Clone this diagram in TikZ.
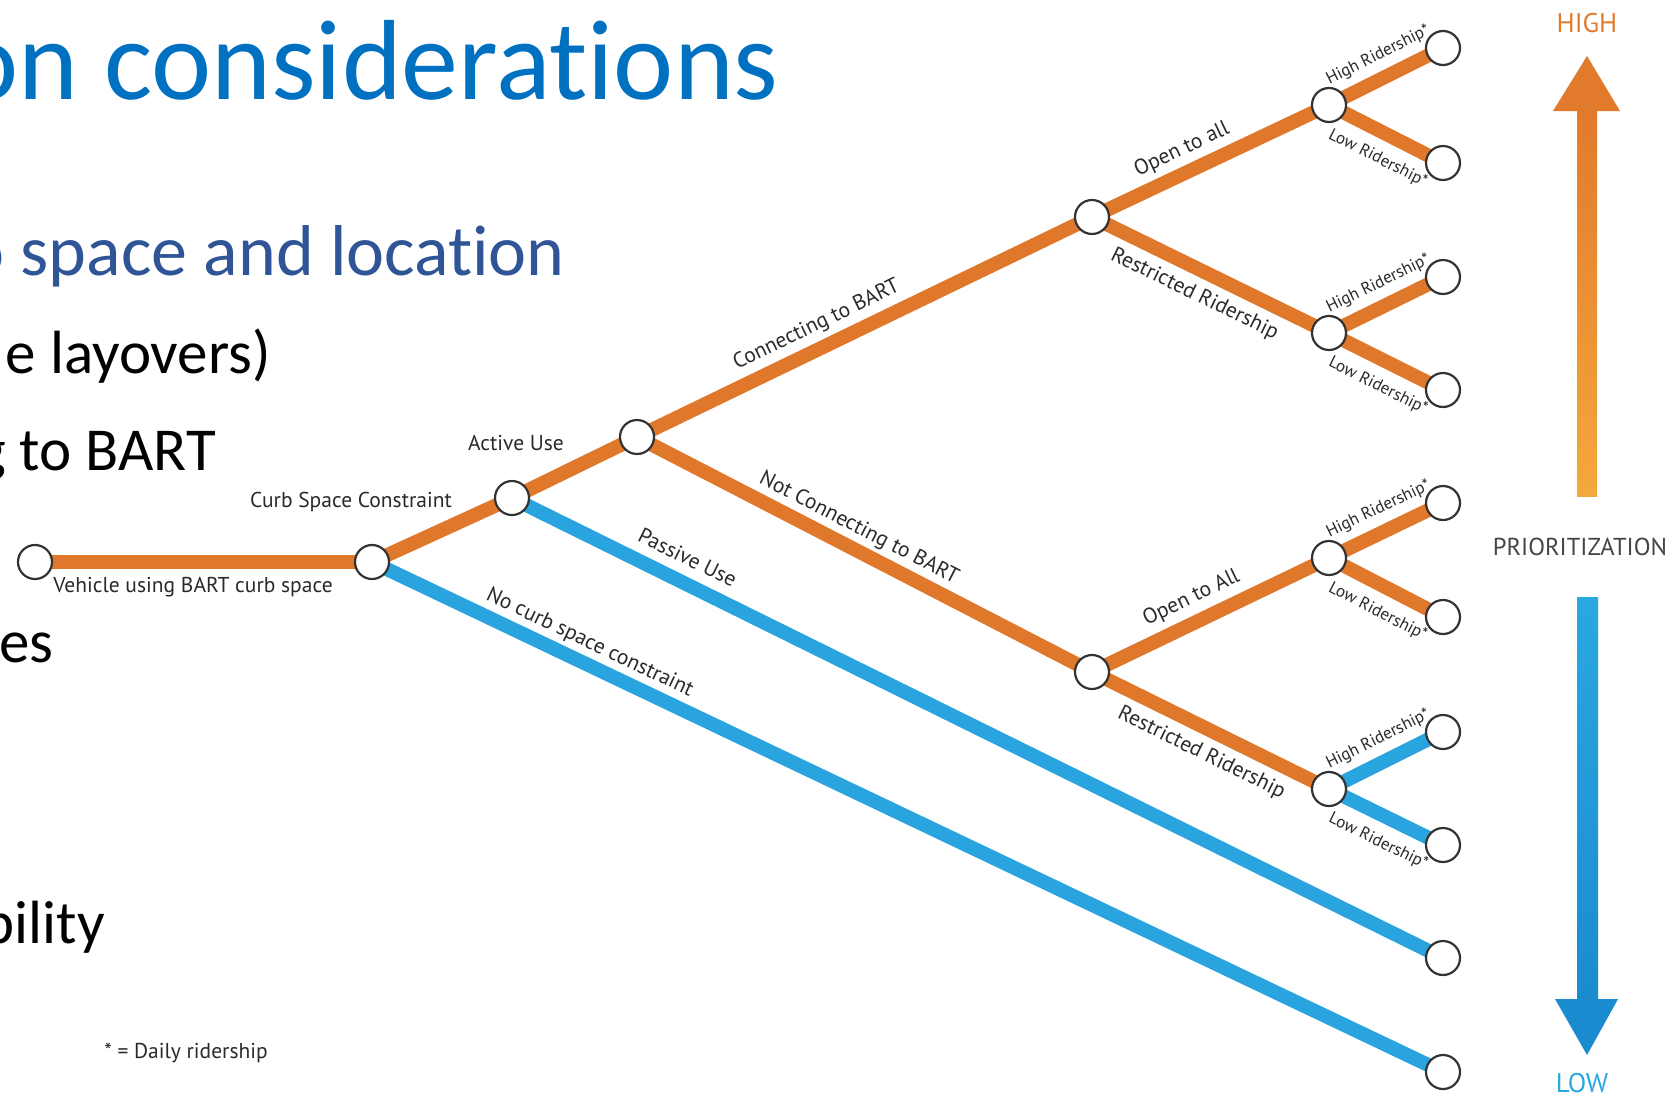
\documentclass[tikz,border=0pt]{standalone}
\usepackage{fontspec}
\setmainfont{Carlito}[Ligatures=NoCommon]
\newfontfamily\lblfont{PT Sans}
\usetikzlibrary{calc}
\definecolor{ttlblue}{HTML}{0070C0}
\definecolor{hdblue}{HTML}{2F5597}
\definecolor{lorange}{HTML}{E0782C}
\definecolor{lblue}{HTML}{2AA4DE}
\definecolor{ringgray}{HTML}{333333}
\definecolor{labgray}{HTML}{2A2A2A}
\definecolor{ahorange}{HTML}{E27A2C}
\definecolor{ahlight}{HTML}{F4A83C}
\definecolor{abtop}{HTML}{2AA8E2}
\definecolor{abbot}{HTML}{1B8BD0}
\definecolor{prgray}{HTML}{444444}
\pgfdeclarelayer{bg}
\pgfsetlayers{bg,main}
\begin{document}
\begin{tikzpicture}[x=1pt,y=-1pt,
  dot/.style={circle, draw=ringgray, fill=white, line width=2.2pt, minimum size=34pt, inner sep=0pt},
  org/.style={draw=lorange, line width=14pt},
  blu/.style={draw=lblue, line width=14pt},
  lab/.style={font=\lblfont\fontsize{21.5}{26}\selectfont, text=labgray, inner sep=0pt},
  slab/.style={font=\lblfont\fontsize{17}{20}\selectfont, text=labgray, inner sep=0pt},
  slide/.style={anchor=base east, inner sep=0pt},
  abv/.style={sloped, anchor=base, yshift=#1},
  blw/.style={sloped, anchor=base, yshift=#1},
]
\useasboundingbox (0,0) rectangle (1680,1092);

% slide text (clipped at left)
\begin{scope}
\clip (0,0) rectangle (1680,1092);
\node[slide, text=ttlblue, font=\fontsize{114}{120}\selectfont] (title) at (779,99) {on considerat\kern0pt ions};
\node[slide, text=hdblue, font=\fontsize{72}{80}\selectfont] (head) at (565,275) {o space and locat\kern0pt ion};
\node[slide, text=black, font=\fontsize{61}{66}\selectfont] (b1) at (271,373) {e layovers)};
\node[slide, text=black, font=\fontsize{61}{66}\selectfont] (b2) at (216,470) {g to BART};
\node[slide, text=black, font=\fontsize{61}{66}\selectfont] (b3) at (54,662) {es};
\node[slide, text=black, font=\fontsize{61}{66}\selectfont] (b4) at (105,943) {bility};
\end{scope}

% tree nodes
\node[dot] (n0) at (35,562) {};
\node[dot] (n1) at (372,562) {};
\node[dot] (n2) at (512,498) {};
\node[dot] (n3) at (637,437) {};
\node[dot] (n4) at (1092,217) {};
\node[dot] (n5) at (1092,672) {};
\node[dot] (n6) at (1329,105) {};
\node[dot] (n7) at (1329,333) {};
\node[dot] (n8) at (1329,558) {};
\node[dot] (n9) at (1329,789) {};
\node[dot] (l1) at (1443,48) {};
\node[dot] (l2) at (1443,163) {};
\node[dot] (l3) at (1443,277) {};
\node[dot] (l4) at (1443,390) {};
\node[dot] (l5) at (1443,503) {};
\node[dot] (l6) at (1443,617) {};
\node[dot] (l7) at (1443,732) {};
\node[dot] (l8) at (1443,845) {};
\node[dot] (l9) at (1443,958) {};
\node[dot] (l10) at (1443,1072) {};

\begin{pgfonlayer}{bg}
\draw[org] (n0.center) -- node[lab, pos=0.469, anchor=base, yshift=-30pt] {Vehicle using BART curb space} (n1.center);
\draw[org] (n1.center) -- (n2.center);
\draw[blu] (n1.center) -- node[lab, abv=15pt, pos=0.195] {No curb space constraint} (l10.center);
\draw[org] (n2.center) -- (n3.center);
\draw[blu] (n2.center) -- node[lab, abv=17pt, pos=0.177] {Passive Use} (l9.center);
\draw[org] (n3.center) -- node[lab, abv=17pt, pos=0.416] {Connecting to BART} (n4.center);
\draw[org] (n3.center) -- node[lab, abv=15pt, pos=0.467] {Not Connecting to BART} (n5.center);
\draw[org] (n4.center) -- node[lab, abv=17pt, pos=0.42] {Open to all} (n6.center);
\draw[org] (n4.center) -- node[lab, blw=-30pt, pos=0.478] {Restricted Ridership} (n7.center);
\draw[org] (n5.center) -- node[lab, abv=18pt, pos=0.463] {Open to All} (n8.center);
\draw[org] (n5.center) -- node[lab, blw=-30pt, pos=0.507] {Restricted Ridership} (n9.center);
\draw[org] (n6.center) -- node[slab, abv=18pt, pos=0.52] {High Ridership*} (l1.center);
\draw[org] (n6.center) -- node[slab, blw=-30pt, pos=0.53] {Low Ridership*} (l2.center);
\draw[org] (n7.center) -- node[slab, abv=18pt, pos=0.52] {High Ridership*} (l3.center);
\draw[org] (n7.center) -- node[slab, blw=-30pt, pos=0.53] {Low Ridership*} (l4.center);
\draw[org] (n8.center) -- node[slab, abv=18pt, pos=0.52] {High Ridership*} (l5.center);
\draw[org] (n8.center) -- node[slab, blw=-30pt, pos=0.53] {Low Ridership*} (l6.center);
\draw[blu] (n9.center) -- node[slab, abv=18pt, pos=0.52] {High Ridership*} (l7.center);
\draw[blu] (n9.center) -- node[slab, blw=-30pt, pos=0.53] {Low Ridership*} (l8.center);
\end{pgfonlayer}

\node[lab] (curbtxt) at (351,502) {Curb Space Constraint};
\node[lab] (activetxt) at (516,443) {Active Use};
\node[lab, anchor=base] (note) at (186,1058) {* = Daily ridership};

% prioritization scale
\shade[top color=ahorange, bottom color=ahlight] (1577,110) rectangle (1597,496);
\fill[ahorange] (1553,111) -- (1620,111) -- (1587,56) -- cycle;
\shade[top color=abtop, bottom color=abbot] (1577,597) rectangle (1598,1000);
\fill[abbot] (1555,999) -- (1618,999) -- (1587,1055) -- cycle;
\node[inner sep=0pt, font=\lblfont\fontsize{27}{30}\selectfont, text=ahorange] (high) at (1587,23) {HIGH};
\node[inner sep=0pt, font=\lblfont\fontsize{24.5}{28}\selectfont, text=prgray] (prio) at (1580,547) {PRIORITIZATION};
\node[inner sep=0pt, anchor=base, font=\lblfont\fontsize{27}{30}\selectfont, text=abtop] (low) at (1582,1092) {LOW};
\end{tikzpicture}
\end{document}
